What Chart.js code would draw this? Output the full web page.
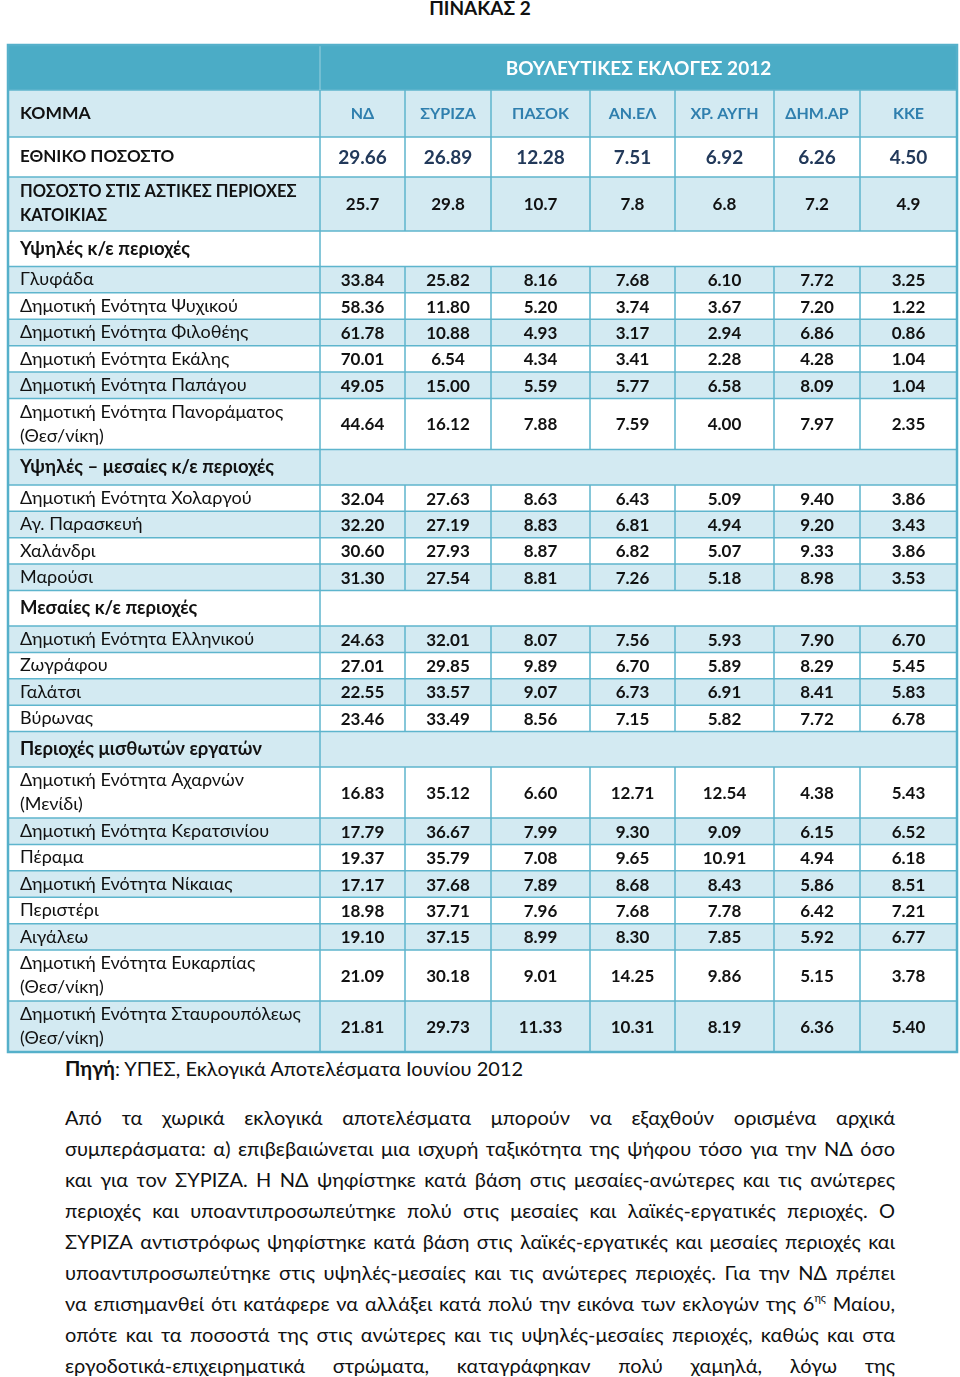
<!DOCTYPE html>
<html lang="el">
<head>
<meta charset="utf-8">
<title>ΠΙΝΑΚΑΣ 2</title>
<script src="https://cdn.jsdelivr.net/npm/chart.js@4.4.0/dist/chart.umd.min.js"></script>
<style>
  html, body { margin: 0; padding: 0; background: #fff; }
  body {
    width: 960px; height: 1377px; position: relative; overflow: hidden;
    font-family: Lato, "Open Sans", sans-serif; color: #111;
  }
  #title {
    position: absolute; top: -4px; left: 0; width: 960px;
    text-align: center; font-weight: bold; font-size: 19px; line-height: 24px;
  }
  #wrap { position: absolute; left: 6px; top: 43px; width: 953px; height: 1011px; }
  #source { position: absolute; left: 65px; top: 1055px; font-size: 20px; line-height: 26px; white-space: nowrap; }
  #para { position: absolute; left: 65px; top: 1102px; width: 830px; font-size: 20px; }
  .line { height: 31px; line-height: 31px; white-space: nowrap; }
  .line .inner { display: inline-block; transform-origin: left center; text-align: justify; text-align-last: justify; white-space: normal; }
  sup { font-size: 11px; line-height: 0; vertical-align: 9px; }
</style>
</head>
<body>
<div id="title">ΠΙΝΑΚΑΣ 2</div>
<div id="wrap"><canvas id="tableChart" width="953" height="1011"></canvas></div>
<div id="source"><b>Πηγή</b>: ΥΠΕΣ, Εκλογικά Αποτελέσματα Ιουνίου 2012</div>
<div id="para">
  <div class="line"><span class="inner">Από τα χωρικά εκλογικά αποτελέσματα μπορούν να εξαχθούν ορισμένα αρχικά</span></div>
  <div class="line"><span class="inner">συμπεράσματα: α) επιβεβαιώνεται μια ισχυρή ταξικότητα της ψήφου τόσο για την ΝΔ όσο</span></div>
  <div class="line"><span class="inner">και για τον ΣΥΡΙΖΑ. Η ΝΔ ψηφίστηκε κατά βάση στις μεσαίες-ανώτερες και τις ανώτερες</span></div>
  <div class="line"><span class="inner">περιοχές και υποαντιπροσωπεύτηκε πολύ στις μεσαίες και λαϊκές-εργατικές περιοχές. Ο</span></div>
  <div class="line"><span class="inner">ΣΥΡΙΖΑ αντιστρόφως ψηφίστηκε κατά βάση στις λαϊκές-εργατικές και μεσαίες περιοχές και</span></div>
  <div class="line"><span class="inner">υποαντιπροσωπεύτηκε στις υψηλές-μεσαίες και τις ανώτερες περιοχές. Για την ΝΔ πρέπει</span></div>
  <div class="line"><span class="inner">να επισημανθεί ότι κατάφερε να αλλάξει κατά πολύ την εικόνα των εκλογών της 6<sup>ης</sup> Μαίου,</span></div>
  <div class="line"><span class="inner">οπότε και τα ποσοστά της στις ανώτερες και τις υψηλές-μεσαίες περιοχές, καθώς και στα</span></div>
  <div class="line"><span class="inner">εργοδοτικά-επιχειρηματικά στρώματα, καταγράφηκαν πολύ χαμηλά, λόγω της</span></div>
</div>

<script>
// Table texts
const electionTitle = 'ΒΟΥΛΕΥΤΙΚΕΣ ΕΚΛΟΓΕΣ 2012';
const firstHeader = 'ΚΟΜΜΑ';
const parties = ['ΝΔ', 'ΣΥΡΙΖΑ', 'ΠΑΣΟΚ', 'ΑΝ.ΕΛ', 'ΧΡ. ΑΥΓΗ', 'ΔΗΜ.ΑΡ', 'ΚΚΕ'];

// Row labels (section rows have no values)
const areas = [
  'ΕΘΝΙΚΟ ΠΟΣΟΣΤΟ',
  'ΠΟΣΟΣΤΟ ΣΤΙΣ ΑΣΤΙΚΕΣ ΠΕΡΙΟΧΕΣ\nΚΑΤΟΙΚΙΑΣ',
  'Υψηλές κ/ε περιοχές',
  'Γλυφάδα',
  'Δημοτική Ενότητα Ψυχικού',
  'Δημοτική Ενότητα Φιλοθέης',
  'Δημοτική Ενότητα Εκάλης',
  'Δημοτική Ενότητα Παπάγου',
  'Δημοτική Ενότητα Πανοράματος\n(Θεσ/νίκη)',
  'Υψηλές – μεσαίες κ/ε περιοχές',
  'Δημοτική Ενότητα Χολαργού',
  'Αγ. Παρασκευή',
  'Χαλάνδρι',
  'Μαρούσι',
  'Μεσαίες κ/ε περιοχές',
  'Δημοτική Ενότητα Ελληνικού',
  'Ζωγράφου',
  'Γαλάτσι',
  'Βύρωνας',
  'Περιοχές μισθωτών εργατών',
  'Δημοτική Ενότητα Αχαρνών\n(Μενίδι)',
  'Δημοτική Ενότητα Κερατσινίου',
  'Πέραμα',
  'Δημοτική Ενότητα Νίκαιας',
  'Περιστέρι',
  'Αιγάλεω',
  'Δημοτική Ενότητα Ευκαρπίας\n(Θεσ/νίκη)',
  'Δημοτική Ενότητα Σταυρουπόλεως\n(Θεσ/νίκη)'
];

// Vote share per party, one value per row
const nd     = [29.66, 25.7, null, 33.84, 58.36, 61.78, 70.01, 49.05, 44.64, null, 32.04, 32.20, 30.60, 31.30, null, 24.63, 27.01, 22.55, 23.46, null, 16.83, 17.79, 19.37, 17.17, 18.98, 19.10, 21.09, 21.81];
const syriza = [26.89, 29.8, null, 25.82, 11.80, 10.88, 6.54, 15.00, 16.12, null, 27.63, 27.19, 27.93, 27.54, null, 32.01, 29.85, 33.57, 33.49, null, 35.12, 36.67, 35.79, 37.68, 37.71, 37.15, 30.18, 29.73];
const pasok  = [12.28, 10.7, null, 8.16, 5.20, 4.93, 4.34, 5.59, 7.88, null, 8.63, 8.83, 8.87, 8.81, null, 8.07, 9.89, 9.07, 8.56, null, 6.60, 7.99, 7.08, 7.89, 7.96, 8.99, 9.01, 11.33];
const anel   = [7.51, 7.8, null, 7.68, 3.74, 3.17, 3.41, 5.77, 7.59, null, 6.43, 6.81, 6.82, 7.26, null, 7.56, 6.70, 6.73, 7.15, null, 12.71, 9.30, 9.65, 8.68, 7.68, 8.30, 14.25, 10.31];
const xa     = [6.92, 6.8, null, 6.10, 3.67, 2.94, 2.28, 6.58, 4.00, null, 5.09, 4.94, 5.07, 5.18, null, 5.93, 5.89, 6.91, 5.82, null, 12.54, 9.09, 10.91, 8.43, 7.78, 7.85, 9.86, 8.19];
const dimar  = [6.26, 7.2, null, 7.72, 7.20, 6.86, 4.28, 8.09, 7.97, null, 9.40, 9.20, 9.33, 8.98, null, 7.90, 8.29, 8.41, 7.72, null, 4.38, 6.15, 4.94, 5.86, 6.42, 5.92, 5.15, 6.36];
const kke    = [4.50, 4.9, null, 3.25, 1.22, 0.86, 1.04, 1.04, 2.35, null, 3.86, 3.43, 3.86, 3.53, null, 6.70, 5.45, 5.83, 6.78, null, 5.43, 6.52, 6.18, 8.51, 7.21, 6.77, 3.78, 5.40];

const seriesList = [nd, syriza, pasok, anel, xa, dimar, kke];

// Layout of the grid (units of the chart scales)
const colWidths = [312, 85, 86, 99, 85, 99, 86, 97];
const rowSizes = { banner: 45, head: 47, national: 40, urban: 54, section: 35.5, single: 26.4, double: 51 };
const labelSizes = { national: 17, urban: 16.5, section: 18.5, single: 18, double: 18 };

const FONT = 'Lato, "Open Sans", sans-serif';
const BORDER = '#5eb5cd';
const BANNER_BG = '#4bacc6';
const LIGHT_BG = '#d3eaf2';

function rowKind(i) {
  if (i === 0) return 'national';
  if (i === 1) return 'urban';
  if (nd[i] === null) return 'section';
  return areas[i].includes('\n') ? 'double' : 'single';
}

// Column edges
const colEdges = [0];
colWidths.forEach(w => colEdges.push(colEdges[colEdges.length - 1] + w));
const totalWidth = colEdges[colEdges.length - 1];

// Row bands: banner, party header, then one band per area
const bands = [];
let acc = 0;
['banner', 'head'].concat(areas.map((_, i) => rowKind(i))).forEach(kind => {
  bands.push({ kind: kind, top: acc, bottom: acc + rowSizes[kind] });
  acc += rowSizes[kind];
});
const totalHeight = acc;

function formatValue(v, row) {
  return row === 1 ? v.toFixed(1) : v.toFixed(2);
}

// One invisible point per cell; the plugin writes the value at each point
const datasets = seriesList.map((values, j) => ({
  label: parties[j],
  data: values
    .map((v, i) => v === null ? null : {
      x: (colEdges[j + 1] + colEdges[j + 2]) / 2,
      y: (bands[i + 2].top + bands[i + 2].bottom) / 2,
      v: v,
      row: i
    })
    .filter(p => p !== null),
  pointRadius: 0,
  pointHoverRadius: 0,
  showLine: false
}));

const tablePlugin = {
  id: 'tableGrid',
  beforeDatasetsDraw(chart) {
    const { ctx, scales: { x, y } } = chart;
    const left = x.getPixelForValue(0);
    const right = x.getPixelForValue(totalWidth);
    ctx.save();

    // backgrounds
    bands.forEach((b, k) => {
      const top = y.getPixelForValue(b.top);
      const bottom = y.getPixelForValue(b.bottom);
      let fill = null;
      if (b.kind === 'banner') fill = BANNER_BG;
      else if (b.kind === 'head') fill = LIGHT_BG;
      else if ((k - 2) % 2 === 1) fill = LIGHT_BG;
      if (fill) {
        ctx.fillStyle = fill;
        ctx.fillRect(left, top, right - left, bottom - top);
      }
    });

    // horizontal lines
    ctx.strokeStyle = BORDER;
    ctx.lineWidth = 1.5;
    bands.slice(1).forEach(b => {
      const yy = y.getPixelForValue(b.top);
      ctx.beginPath();
      ctx.moveTo(left, yy);
      ctx.lineTo(right, yy);
      ctx.stroke();
    });

    // vertical lines (merged value cells in banner and section rows)
    bands.forEach(b => {
      const top = y.getPixelForValue(b.top);
      const bottom = y.getPixelForValue(b.bottom);
      for (let c = 1; c < colEdges.length - 1; c++) {
        if (c > 1 && (b.kind === 'banner' || b.kind === 'section')) continue;
        const xx = x.getPixelForValue(colEdges[c]);
        ctx.strokeStyle = b.kind === 'banner' ? 'rgba(255,255,255,0.3)' : BORDER;
        ctx.beginPath();
        ctx.moveTo(xx, top);
        ctx.lineTo(xx, bottom);
        ctx.stroke();
      }
    });

    // outer border
    ctx.strokeStyle = '#55b0ca';
    ctx.lineWidth = 2.5;
    ctx.strokeRect(left, y.getPixelForValue(0), right - left, y.getPixelForValue(totalHeight) - y.getPixelForValue(0));
    ctx.restore();
  },
  afterDatasetsDraw(chart) {
    const { ctx, scales: { x, y } } = chart;
    const left = x.getPixelForValue(0);
    ctx.save();
    ctx.textBaseline = 'middle';

    // banner title
    const banner = bands[0];
    ctx.fillStyle = '#ffffff';
    ctx.font = 'bold 19px ' + FONT;
    ctx.textAlign = 'center';
    ctx.fillText(electionTitle,
      (x.getPixelForValue(colEdges[1]) + x.getPixelForValue(totalWidth)) / 2,
      (y.getPixelForValue(banner.top) + y.getPixelForValue(banner.bottom)) / 2 + 1);

    // party header
    const head = bands[1];
    const headMid = (y.getPixelForValue(head.top) + y.getPixelForValue(head.bottom)) / 2;
    ctx.textAlign = 'left';
    ctx.fillStyle = '#111';
    ctx.font = 'bold 17.5px ' + FONT;
    ctx.fillText(firstHeader, left + 12, headMid);
    ctx.textAlign = 'center';
    ctx.fillStyle = '#2f7fae';
    ctx.font = 'bold 16px ' + FONT;
    parties.forEach((p, j) => {
      ctx.fillText(p, (x.getPixelForValue(colEdges[j + 1]) + x.getPixelForValue(colEdges[j + 2])) / 2, headMid);
    });

    // row labels
    ctx.textAlign = 'left';
    ctx.fillStyle = '#111';
    areas.forEach((label, i) => {
      const b = bands[i + 2];
      const mid = (y.getPixelForValue(b.top) + y.getPixelForValue(b.bottom)) / 2;
      const bold = b.kind !== 'single' && b.kind !== 'double';
      ctx.font = (bold ? 'bold ' : '') + labelSizes[b.kind] + 'px ' + FONT;
      const lines = label.split('\n');
      const step = 24;
      lines.forEach((t, n) => {
        ctx.fillText(t, left + 12, mid + (n - (lines.length - 1) / 2) * step);
      });
    });

    // values at each dataset point
    ctx.textAlign = 'center';
    chart.data.datasets.forEach((ds, d) => {
      const meta = chart.getDatasetMeta(d);
      meta.data.forEach((el, k) => {
        const p = ds.data[k];
        if (p.row === 0) {
          ctx.font = 'bold 19px ' + FONT;
          ctx.fillStyle = '#22395a';
        } else {
          ctx.font = 'bold 17px ' + FONT;
          ctx.fillStyle = '#111';
        }
        ctx.fillText(formatValue(p.v, p.row), el.x, el.y + 1);
      });
    });
    ctx.restore();
  }
};

new Chart(document.getElementById('tableChart').getContext('2d'), {
  type: 'scatter',
  data: { datasets: datasets },
  options: {
    responsive: false,
    animation: false,
    events: [],
    layout: { padding: { left: 2, top: 2, right: 2, bottom: 2 } },
    plugins: {
      legend: { display: false },
      tooltip: { enabled: false }
    },
    scales: {
      x: { type: 'linear', display: false, min: 0, max: totalWidth },
      y: { type: 'linear', display: false, min: 0, max: totalHeight, reverse: true }
    }
  },
  plugins: [tablePlugin]
});

// Justify every paragraph line, squeezing the ones that are too long
document.querySelectorAll('#para .inner').forEach(span => {
  const full = 830;
  const natural = span.getBoundingClientRect().width;
  if (natural > full) {
    const w = natural + 2;
    span.style.width = w + 'px';
    span.style.transform = 'scaleX(' + (full / w) + ')';
  } else {
    span.style.width = full + 'px';
  }
});
</script>
</body>
</html>
